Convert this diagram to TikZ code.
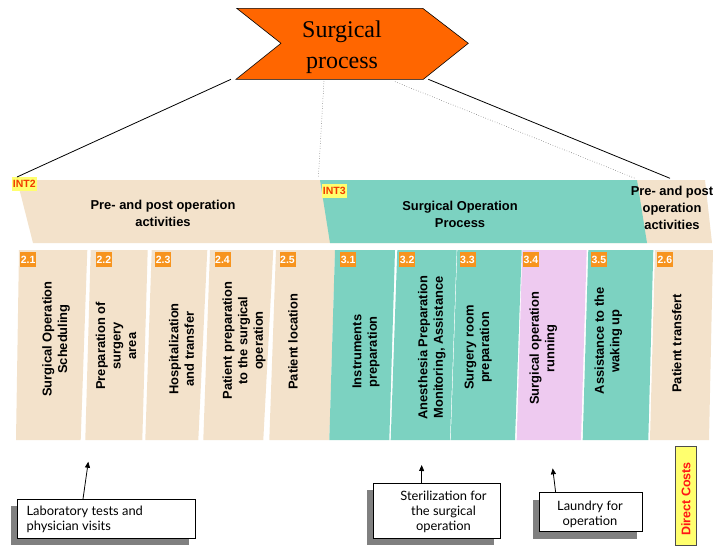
\documentclass[tikz,border=0pt]{standalone}
\usepackage{fontspec}
\setmainfont{Liberation Sans}
\newfontfamily\serifface{Liberation Serif}
\newfontfamily\noteface{Lato}
\usetikzlibrary{arrows.meta,calc,shadows}

\definecolor{chevorange}{RGB}{255,102,0}
\definecolor{bandtan}{RGB}{243,226,203}
\definecolor{bandteal}{RGB}{124,210,193}
\definecolor{bandpink}{RGB}{238,202,240}
\definecolor{tagorange}{RGB}{247,148,30}
\definecolor{intyellow}{RGB}{255,255,110}
\definecolor{intred}{RGB}{240,60,0}
\definecolor{shadowgray}{RGB}{128,128,128}
\definecolor{costred}{RGB}{255,20,20}

\tikzset{
  numtag/.style={fill=tagorange, text=white, anchor=north west, inner sep=0pt,
    minimum width=16pt, minimum height=15pt,
    font=\fontsize{10.5}{11}\selectfont\bfseries},
  inttag/.style={fill=intyellow, text=intred, anchor=north west, inner sep=1pt,
    minimum height=14pt, font=\fontsize{10.5}{11}\selectfont\bfseries},
  coltext/.style={rotate=90, align=center, font=\fontsize{12.9}{15.5}\selectfont\bfseries},
  bandtext/.style={align=center, font=\fontsize{12.9}{16.8}\selectfont\bfseries},
  notebox/.style={draw=black, fill=white, line width=0.7pt, inner sep=0pt,
    drop shadow={shadow xshift=-6pt, shadow yshift=-7pt, fill=shadowgray, opacity=1}},
  notetext/.style={font=\noteface\fontsize{12.9}{15.2}\selectfont},
  solidlink/.style={draw=black, line width=0.8pt},
  dotlink/.style={draw=black!70, line width=0.5pt, dotted},
  uparrow/.style={draw=black, line width=0.8pt, -{Triangle[length=6pt,width=5pt]}},
}

\begin{document}
\begin{tikzpicture}[x=1pt,y=-1pt]
\useasboundingbox (0,0) rectangle (713,547);

% ---- title chevron ----
\filldraw[fill=chevorange, draw=black, line width=0.6pt]
  (236.7,8.3) -- (422.7,8.3) -- (468.3,43.3) -- (423.3,79.3) -- (236,79.3) -- (281,43.3) -- cycle;
\node[align=center, font=\serifface\fontsize{24}{31}\selectfont] (title) at (342,47.3) {Surgical\\process};

% ---- phase bands ----
\fill[bandtan] (17,180) -- (705,180) -- (712,243) -- (33,243) -- cycle;
\fill[bandteal] (320,180) -- (637,180) -- (647,243) -- (330,243) -- cycle;

\node[bandtext] (preband) at (163,213.5) {Pre- and post operation\\activities};
\node[bandtext] (procband) at (460,214.5) {Surgical Operation\\Process};
\node[bandtext] (postband) at (672,208) {Pre- and post\\operation\\activities};

\node[inttag] (int2) at (11.7,177) {INT2};
\node[inttag] (int3) at (321.7,183.3) {INT3};

% ---- links from the title to the bands ----
\coordinate (tL) at (231,79.3);   \coordinate (bL) at (17,177);
\coordinate (tM) at (324,81);     \coordinate (bM) at (318.3,178.3);
\coordinate (tR1) at (395,81.7);  \coordinate (bR1) at (635,178.3);
\coordinate (tR2) at (428.3,79.3);\coordinate (bR2) at (670,178.3);
\draw[solidlink] (tL) -- (bL);
\draw[dotlink] (tM) -- (bM);
\draw[dotlink] (tR1) -- (bR1);
\draw[solidlink] (tR2) -- (bR2);

% ---- activity columns: left-top / right-top / right-bottom / left-bottom / colour ----
\foreach \lt/\rt/\rb/\lb/\c in {
  19/87.3/80.7/16/bandtan,
  90.7/147.7/142.3/85.3/bandtan,
  151.7/207.3/198.3/145.3/bandtan,
  210/273.3/263.3/203.3/bandtan,
  276/335/329.3/269.3/bandtan,
  335/395/389.3/329.3/bandteal,
  397.3/456.7/450/390.7/bandteal,
  457.3/521.7/515/450.7/bandteal,
  522.3/586.7/581/516.7/bandpink,
  588.3/653.3/648.3/582.7/bandteal,
  655/713/709/650/bandtan}
  \fill[\c] (\lt,250) -- (\rt,250) -- (\rb,440) -- (\lb,440) -- cycle;

% number tags
\node[numtag] (n21) at (20,251.7) {2.1};
\node[numtag] (n22) at (95.7,251.7) {2.2};
\node[numtag] (n23) at (155,251.7) {2.3};
\node[numtag] (n24) at (214.3,251.7) {2.4};
\node[numtag] (n25) at (279.3,251.7) {2.5};
\node[numtag] (n31) at (340,251.7) {3.1};
\node[numtag] (n32) at (399,251.7) {3.2};
\node[numtag] (n33) at (459.3,251.7) {3.3};
\node[numtag] (n34) at (522.7,251.7) {3.4};
\node[numtag] (n35) at (590.7,251.7) {3.5};
\node[numtag] (n26) at (656.7,251.7) {2.6};

% column captions
\node[coltext] (t21) at (56,339) {Surgical Operation\\Scheduling};
\node[coltext] (t22) at (116,346) {Preparation of\\surgery\\area};
\node[coltext] (t23) at (181.5,349) {Hospitalization\\and transfer};
\node[coltext] (t24) at (244,340.5) {Patient preparation\\to the surgical\\operation};
\node[coltext] (t25) at (293,341.7) {Patient location};
\node[coltext] (t31) at (366,351.7) {Instruments\\preparation};
\node[coltext] (t32) at (431.7,347.5) {Anesthesia Preparation\\Monitoring, Assistance};
\node[coltext] (t33) at (478.3,347.5) {Surgery room\\preparation};
\node[coltext] (t34) at (543.3,348.3) {Surgical operation\\running};
\node[coltext] (t35) at (608.3,340.8) {Assistance to the\\waking up};
\node[coltext] (t26) at (676.7,343.3) {Patient transfert};

% ---- support notes ----
\node[notebox, minimum width=177.7pt, minimum height=39pt] (lab) at (106.2,518.8) {};
\node[notetext, align=left, anchor=west] (labtext) at (23,519.5) {Laboratory tests and\\physician visits};

\node[notebox, minimum width=126.7pt, minimum height=55pt] (steril) at (436.7,510.8) {};
\node[notetext, align=center] (steriltext) at (443.5,512) {Sterilization for\\the surgical\\operation};

\node[notebox, minimum width=103.4pt, minimum height=39pt] (laundry) at (591,512.2) {};
\node[notetext, align=center] (laundrytext) at (590,514) {Laundry for\\operation};

\coordinate (a1) at (88.3,461.7);
\coordinate (a2) at (421.7,465);
\coordinate (a3) at (552.7,468.3);
\draw[uparrow] (lab.north west) ++(66,0) -- (a1);
\draw[uparrow] (steril.north west) ++(48.4,0) -- (a2);
\draw[uparrow] (laundry.north west) ++(16.7,0) -- (a3);

% ---- direct costs marker ----
\node[draw=black!70, fill=intyellow, line width=0.8pt, minimum width=21.7pt, minimum height=98.3pt, inner sep=0pt] (costbox) at (685.8,495.8) {};
\node[rotate=90, text=costred, font=\fontsize{12.5}{12.5}\selectfont\bfseries] (costtext) at (686,499) {Direct Costs};

\end{tikzpicture}
\end{document}
